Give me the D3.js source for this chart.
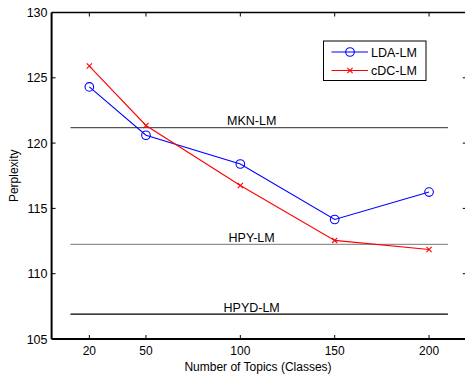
<!DOCTYPE html>
<html>
<head>
<meta charset="utf-8">
<script src="https://cdn.jsdelivr.net/npm/d3@7"></script>
<style>
  body { margin: 0; background: #fff; }
  svg { display: block; font-family: "Liberation Sans", Arial, sans-serif; }
</style>
</head>
<body>
<svg id="chart" width="465" height="378"></svg>
<script>
// data
const topics = [20, 50, 100, 150, 200];
const ldaLM = [124.3, 120.6, 118.4, 114.15, 116.25];
const cdcLM = [125.9, 121.35, 116.75, 112.55, 111.85];
const yTicks = [105, 110, 115, 120, 125, 130];
// horizontal baselines: name, value
const baselineNames = ["MKN-LM", "HPY-LM", "HPYD-LM"];
const baselineValues = [121.18, 112.25, 106.9];
const baselineSpan = [10, 210];
const baselineLabelAt = 106;

const width = 465, height = 378;
const svg = d3.select("#chart");

const x = d3.scaleLinear().domain([0, 220]).range([51.6, 466.8]);
const y = d3.scaleLinear().domain([105, 130]).range([339, 12.5]);

// box axes, ticks pointing inwards like matlab
const tickLen = 4;
const axes = svg.append("g");

axes.append("line")
  .attr("x1", x(0)).attr("x2", x(220)).attr("y1", y(105)).attr("y2", y(105))
  .attr("stroke", "#000").attr("stroke-width", 2);
axes.append("line")
  .attr("x1", x(0)).attr("x2", x(220)).attr("y1", y(130)).attr("y2", y(130))
  .attr("stroke", "#000").attr("stroke-width", 1.5);
axes.append("line")
  .attr("x1", x(0)).attr("x2", x(0)).attr("y1", y(105)).attr("y2", y(130))
  .attr("stroke", "#000").attr("stroke-width", 2);
axes.append("line")
  .attr("x1", x(220)).attr("x2", x(220)).attr("y1", y(105)).attr("y2", y(130))
  .attr("stroke", "#000").attr("stroke-width", 1.5);

// x ticks (bottom and top)
topics.forEach(t => {
  axes.append("line")
    .attr("x1", x(t)).attr("x2", x(t))
    .attr("y1", y(105)).attr("y2", y(105) - tickLen)
    .attr("stroke", "#000").attr("stroke-width", 1);
  axes.append("line")
    .attr("x1", x(t)).attr("x2", x(t))
    .attr("y1", y(130)).attr("y2", y(130) + tickLen)
    .attr("stroke", "#000").attr("stroke-width", 1);
  axes.append("text")
    .attr("x", x(t)).attr("y", 355)
    .attr("text-anchor", "middle")
    .attr("font-size", 12)
    .text(t);
});

// y ticks (left and right)
yTicks.forEach(v => {
  axes.append("line")
    .attr("x1", x(0)).attr("x2", x(0) + tickLen)
    .attr("y1", y(v)).attr("y2", y(v))
    .attr("stroke", "#000").attr("stroke-width", 1);
  axes.append("line")
    .attr("x1", x(220)).attr("x2", x(220) - tickLen)
    .attr("y1", y(v)).attr("y2", y(v))
    .attr("stroke", "#000").attr("stroke-width", 1);
  axes.append("text")
    .attr("x", 47.5).attr("y", y(v))
    .attr("dy", "0.36em")
    .attr("text-anchor", "end")
    .attr("font-size", 12.5)
    .text(v);
});

// axis titles
svg.append("text")
  .attr("x", 258).attr("y", 371)
  .attr("text-anchor", "middle")
  .attr("font-size", 12)
  .text("Number of Topics (Classes)");
svg.append("text")
  .attr("transform", `translate(18,${(y(105) + y(130)) / 2}) rotate(-90)`)
  .attr("text-anchor", "middle")
  .attr("font-size", 12)
  .text("Perplexity");

// baseline models
const baseColors = ["#555", "#777", "#000"];
const baseWidths = [1.3, 1, 1.3];
baselineNames.forEach((name, i) => {
  svg.append("line")
    .attr("x1", x(baselineSpan[0])).attr("x2", x(baselineSpan[1]))
    .attr("y1", y(baselineValues[i])).attr("y2", y(baselineValues[i]))
    .attr("stroke", baseColors[i]).attr("stroke-width", baseWidths[i]);
  svg.append("text")
    .attr("x", x(baselineLabelAt)).attr("y", y(baselineValues[i]) - 2.5)
    .attr("text-anchor", "middle")
    .attr("font-size", 12.5)
    .text(name);
});

// the two series
const line = d3.line().x((d, i) => x(topics[i])).y(d => y(d));

svg.append("path")
  .datum(ldaLM)
  .attr("d", line)
  .attr("fill", "none").attr("stroke", "#0000ff").attr("stroke-width", 1.1);
svg.append("path")
  .datum(cdcLM)
  .attr("d", line)
  .attr("fill", "none").attr("stroke", "#ff0000").attr("stroke-width", 1.1);

const drawCircle = (g, cx, cy) => {
  g.append("circle")
    .attr("cx", cx).attr("cy", cy).attr("r", 4.3)
    .attr("fill", "none").attr("stroke", "#0000ff").attr("stroke-width", 1.1);
};
const drawCross = (g, cx, cy) => {
  const s = 2.6;
  g.append("path")
    .attr("d", `M${cx - s},${cy - s}L${cx + s},${cy + s}M${cx - s},${cy + s}L${cx + s},${cy - s}`)
    .attr("stroke", "#ff0000").attr("stroke-width", 1.1);
};

const marks = svg.append("g");
ldaLM.forEach((v, i) => drawCircle(marks, x(topics[i]), y(v)));
cdcLM.forEach((v, i) => drawCross(marks, x(topics[i]), y(v)));

// legend
const legend = svg.append("g");
legend.append("rect")
  .attr("x", 323.5).attr("y", 41)
  .attr("width", 102.5).attr("height", 39.5)
  .attr("fill", "#fff").attr("stroke", "#000").attr("stroke-width", 1);

const legendItems = [
  { name: "LDA-LM", color: "#0000ff", draw: drawCircle, y: 52 },
  { name: "cDC-LM", color: "#ff0000", draw: drawCross, y: 70.5 }
];
legendItems.forEach(d => {
  legend.append("line")
    .attr("x1", 331.5).attr("x2", 368)
    .attr("y1", d.y).attr("y2", d.y)
    .attr("stroke", d.color).attr("stroke-width", 1.1);
  d.draw(legend, 350, d.y);
  legend.append("text")
    .attr("x", 371).attr("y", d.y)
    .attr("dy", "0.36em")
    .attr("font-size", 12.5)
    .text(d.name);
});
</script>
</body>
</html>
